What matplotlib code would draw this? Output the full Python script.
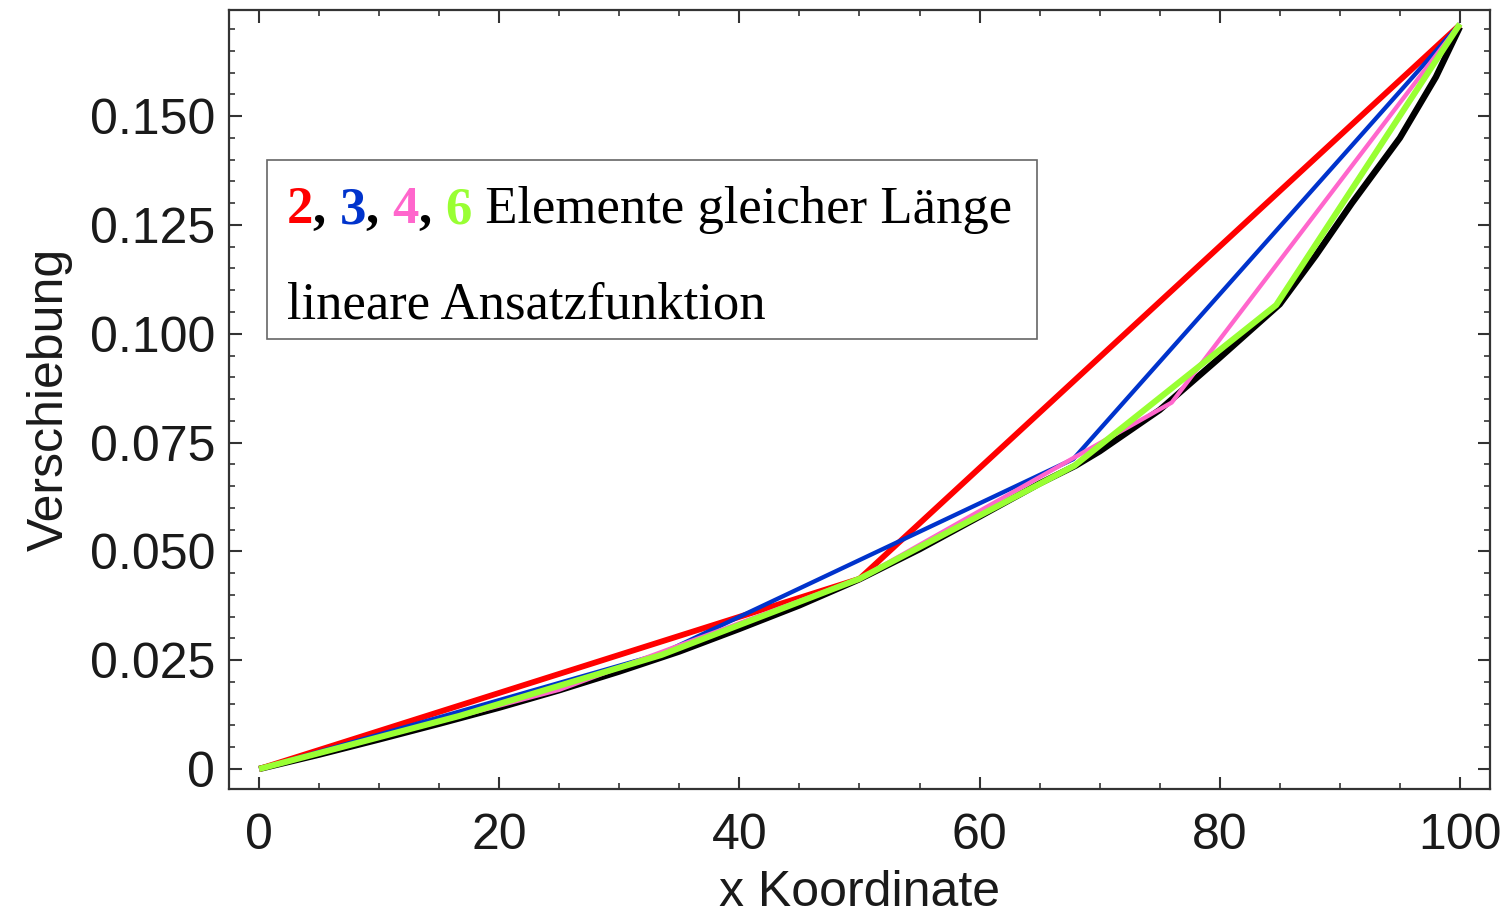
"""Verschiebung entlang des Stabes: exakte Loesung und lineare FE-Naeherungen."""

import matplotlib

matplotlib.use("Agg")
import matplotlib.pyplot as plt
from matplotlib.ticker import FixedLocator, MultipleLocator

# exact solution (black)
exact_x = [0, 5, 10, 15, 20, 25, 30, 35, 40, 45, 50, 55, 60, 65, 68, 70, 75, 80, 85, 88, 91, 95, 98, 100]
exact_y = [0.0, 0.0033, 0.0068, 0.0104, 0.0141, 0.0181, 0.0224, 0.0270, 0.0322, 0.0376, 0.0436,
           0.0505, 0.0580, 0.0656, 0.0697, 0.0730, 0.0825, 0.0945, 0.1068, 0.1180, 0.1300,
           0.1450, 0.1590, 0.1705]

# finite element solutions, nodes
fe2_x = [0, 50, 100]
fe2_y = [0.0, 0.0437, 0.1710]
fe3_x = [0, 33.5, 67.8, 100]
fe3_y = [0.0, 0.0265, 0.0712, 0.1712]
fe4_x = [0, 25, 50, 76, 100]
fe4_y = [0.0, 0.0182, 0.0437, 0.0842, 0.1712]
fe6_x = [0, 16.7, 33.5, 50, 67.9, 84.7, 100]
fe6_y = [0.0, 0.0122, 0.0262, 0.0437, 0.0697, 0.1066, 0.1712]

y_ticks = [0, 0.025, 0.05, 0.075, 0.1, 0.125, 0.15]
y_tick_labels = ["0", "0.025", "0.050", "0.075", "0.100", "0.125", "0.150"]
x_ticks = [0, 20, 40, 60, 80, 100]

RED = "#ff0000"
BLUE = "#0033cc"
PINK = "#ff66cc"
GREEN = "#99ff33"
TEXT = "#1a1a1a"

plt.rcParams["font.family"] = ["Liberation Sans", "DejaVu Sans"]

fig = plt.figure(figsize=(15.12, 9.17), dpi=100)
ax = fig.add_axes([0.1515, 0.1396, 0.8339, 0.8495])

ax.plot(exact_x, exact_y, color="black", lw=4.6, solid_capstyle="butt", zorder=2)
ax.plot(fe2_x, fe2_y, color=RED, lw=4.2, solid_capstyle="butt", zorder=3)
ax.plot(fe3_x, fe3_y, color=BLUE, lw=3.1, solid_capstyle="butt", zorder=4)
ax.plot(fe4_x, fe4_y, color=PINK, lw=3.1, solid_capstyle="butt", zorder=5)
ax.plot(fe6_x, fe6_y, color=GREEN, lw=4.4, solid_capstyle="butt", zorder=6)

ax.set_xlim(-2.5, 102.5)
ax.set_ylim(-0.0046, 0.1744)

ax.xaxis.set_major_locator(FixedLocator(x_ticks))
ax.xaxis.set_minor_locator(MultipleLocator(5))
ax.set_yticks(y_ticks, y_tick_labels)
ax.yaxis.set_minor_locator(MultipleLocator(0.005))

ax.tick_params(which="both", direction="in", top=True, right=True, colors="#333333",
               labelcolor=TEXT, labelsize=36)
ax.tick_params(which="major", length=9, width=1.5)
ax.tick_params(which="minor", length=4.5, width=1.2)
ax.tick_params(axis="x", pad=17)
ax.tick_params(axis="y", pad=10)
for spine in ax.spines.values():
    spine.set_color("#333333")
    spine.set_linewidth(1.6)

# the label sits right at the lower edge, as in the original
ax.set_xlabel("x Koordinate", fontsize=36, color=TEXT, labelpad=8)
ax.set_ylabel("Verschiebung", fontsize=36, color=TEXT, labelpad=12)

# legend box with coloured element counts
box = plt.Rectangle((0.0302, 0.578), 0.6106, 0.2294, transform=ax.transAxes,
                    facecolor="white", edgecolor="#666666", lw=1.2, zorder=7)
ax.add_patch(box)

serif = ["Liberation Serif", "DejaVu Serif"]
parts = [("2", RED, "bold"), (", ", "black", "bold"), ("3", BLUE, "bold"), (", ", "black", "bold"),
         ("4", PINK, "bold"), (", ", "black", "bold"), ("6", GREEN, "bold"),
         (" Elemente gleicher Länge", "black", "normal")]
prev = ax.text(0.0460, 0.712, parts[0][0], transform=ax.transAxes, color=parts[0][1],
               fontweight=parts[0][2], family=serif, fontsize=38, va="bottom", ha="left", zorder=8)
for text, color, weight in parts[1:]:
    prev = ax.annotate(text, xy=(1, 0), xycoords=prev, color=color, fontweight=weight,
                       family=serif, fontsize=38, va="bottom", ha="left", zorder=8)
ax.text(0.0460, 0.590, "lineare Ansatzfunktion", transform=ax.transAxes, color="black",
        family=serif, fontsize=38, va="bottom", ha="left", zorder=8)

fig.savefig("out.png", dpi=100)
